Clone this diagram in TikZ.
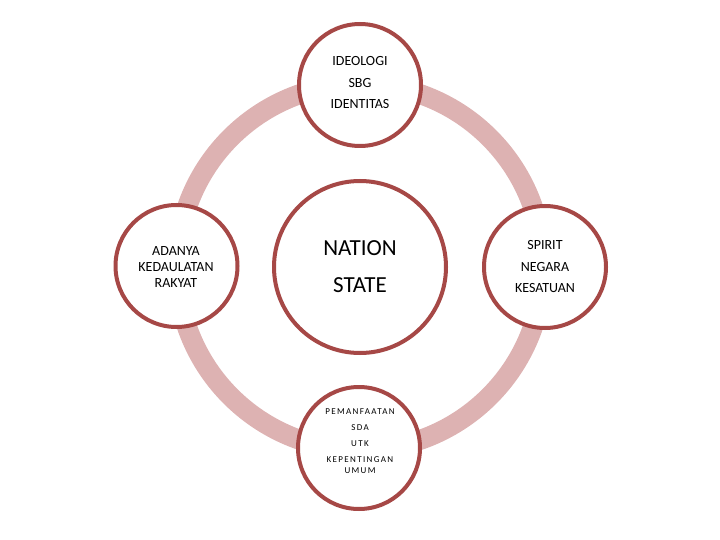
\documentclass[tikz,border=0pt]{standalone}
\usepackage{fontspec}
\setmainfont{Carlito}
\newfontfamily\spacedfont[LetterSpace=15]{Carlito}
\definecolor{ringcol}{RGB}{221,178,178}
\definecolor{edgecol}{RGB}{166,72,70}
\begin{document}
\begin{tikzpicture}[x=1pt,y=-1pt,
  ring/.style={draw=ringcol,line width=20pt},
  smallcirc/.style={circle,draw=edgecol,line width=4pt,fill=white,minimum size=122pt,inner sep=0pt},
  bigcirc/.style={circle,draw=edgecol,line width=4pt,fill=white,minimum size=172pt,inner sep=0pt},
  lbl/.style={align=center,inner sep=0pt,text=black}]
\useasboundingbox (0,0) rectangle (720,540);
\coordinate (c) at (360,267);
\draw[ring] (c) circle (183);
\node[bigcirc] (center) at (360,267) {};
\node[smallcirc] (top) at (360,85) {};
\node[smallcirc] (left) at (176.5,266) {};
\node[smallcirc] (right) at (545,267) {};
\node[smallcirc] (bottom) at (359,448) {};
\node[lbl,font=\fontsize{14}{21.5}\selectfont] (toptext) at (360,83) {IDEOLOGI\\SBG\\IDENTITAS};
\node[lbl,font=\fontsize{14}{16}\selectfont] (lefttext) at (176,267) {ADANYA\\KEDAULATAN\\RAKYAT};
\node[lbl,font=\fontsize{14}{21.5}\selectfont] (righttext) at (545,267) {SPIRIT\\NEGARA\\KESATUAN};
\node[lbl,font=\fontsize{23}{37}\selectfont] (centertext) at (360,266.5) {NATION\\STATE};
\node[lbl,font=\spacedfont\fontsize{9}{11}\selectfont] (bottomtext) at (360,441) {PEMANFAATAN\\[5.5pt]SDA\\[5pt]UTK\\[5pt]KEPENTINGAN\\UMUM};
\end{tikzpicture}
\end{document}
